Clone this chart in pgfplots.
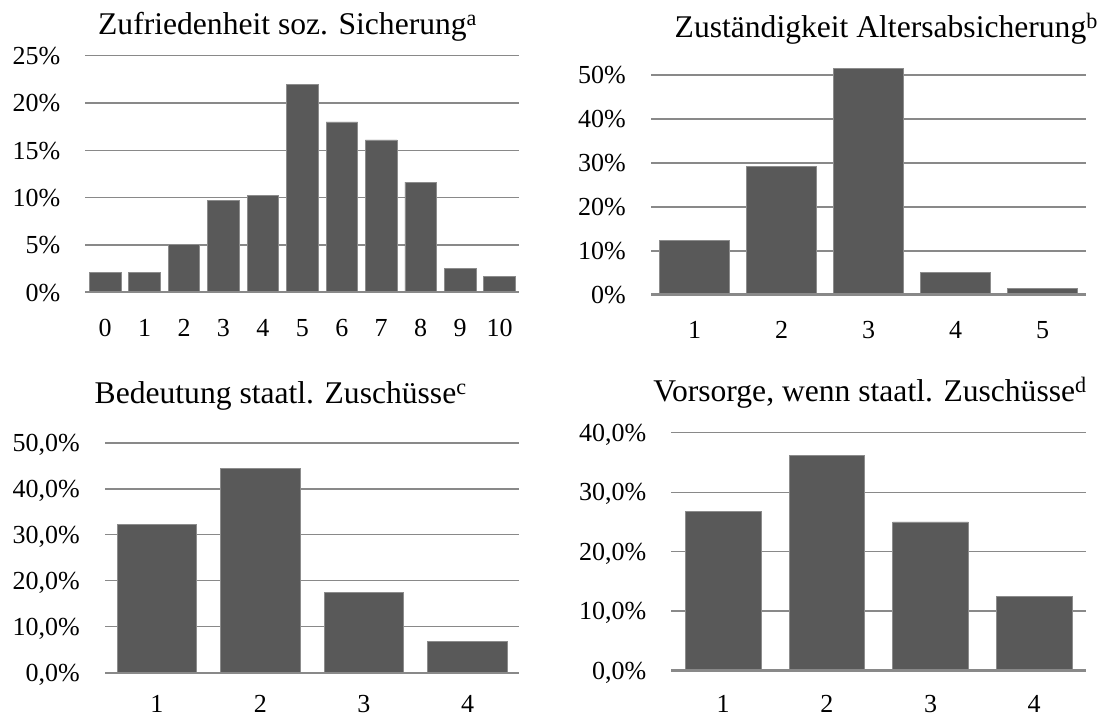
\documentclass[border=0pt]{standalone}
\usepackage{fontspec}
\setmainfont{Liberation Serif}
\usepackage{pgfplots}
\pgfplotsset{compat=1.18}
\definecolor{barc}{HTML}{595959}
\definecolor{gridc}{HTML}{898989}
\definecolor{edgec}{HTML}{8C8C8C}
\pgfplotsset{
  panel/.style={
    scale only axis, anchor=south west,
    axis line style={draw=none},
    major tick length=0pt,
    ymajorgrids, grid style={gridc, line width=1.3pt},
    ymin=0,
    xtick=data,
    ticklabel style={font=\fontsize{26}{26}\selectfont, inner sep=0pt, text=black},
    yticklabel style={anchor=base east, yshift=-8.8pt},
    yticklabel shift=25pt,
    xticklabel style={anchor=base},
    title style={font=\fontsize{31.6}{32}\selectfont, inner sep=0pt},
    ybar, clip=false,
  },
  barst/.style={fill=barc, draw=edgec, line width=0.8pt},
}
\begin{document}
\begin{tikzpicture}[x=1pt,y=1pt]
\useasboundingbox (0,0) rectangle (1097,718);
% Panel 1
\begin{axis}[panel,
  at={(85.4pt,425.7pt)}, width=433.9pt, height=236.6pt,
  ymax=25, ytick={0,5,10,15,20,25},
  yticklabels={0\%,5\%,10\%,15\%,20\%,25\%},
  xmin=-0.5, xmax=10.5, bar width=0.8,
  xticklabels={0,1,2,3,4,5,6,7,8,9,10},
  xticklabel shift=44.4pt,
  title={Zufriedenheit soz. Sicherung\textsuperscript{a}},
  title style={at={(axis description cs:0.466,1.066)}, anchor=base},
]
\addplot[barst] coordinates {(0,2.1) (1,2.1) (2,5.1) (3,9.75) (4,10.2) (5,22.0) (6,18.0) (7,16.1) (8,11.65) (9,2.55) (10,1.72)};
\draw[gridc, line width=2pt] (rel axis cs:0,0) -- (rel axis cs:1,0);
\end{axis}
% Panel 2
\begin{axis}[panel,
  at={(651pt,423pt)}, width=435pt, height=228.8pt,
  ymax=52, ytick={0,10,20,30,40,50},
  yticklabels={0\%,10\%,20\%,30\%,40\%,50\%},
  xmin=0.5, xmax=5.5, bar width=0.806,
  xticklabels={1,2,3,4,5},
  xticklabel shift=44pt,
  title={Zuständigkeit Altersabsicherung\textsuperscript{b}},
  title style={at={(axis description cs:0.054,1.100)}, anchor=base west},
]
\addplot[barst] coordinates {(1,12.45) (2,29.3) (3,51.5) (4,5.2) (5,1.55)};
\draw[gridc, line width=3pt] (rel axis cs:0,0) -- (rel axis cs:1,0);
\end{axis}
% Panel 3
\begin{axis}[panel,
  at={(105pt,45.5pt)}, width=414.3pt, height=229.5pt,
  ymax=50, ytick={0,10,20,30,40,50},
  yticklabels={{0,0\%},{10,0\%},{20,0\%},{30,0\%},{40,0\%},{50,0\%}},
  xmin=0.5, xmax=4.5, bar width=0.765,
  xticklabels={1,2,3,4},
  xticklabel shift=40pt,
  title={Bedeutung staatl. Zuschüsse\textsuperscript{c}},
  title style={at={(axis description cs:0.424,1.147)}, anchor=base},
]
\addplot[barst] coordinates {(1,32.3) (2,44.5) (3,17.5) (4,6.7)};
\draw[gridc, line width=2pt] (rel axis cs:0,0) -- (rel axis cs:1,0);
\end{axis}
% Panel 4
\begin{axis}[panel,
  at={(671.4pt,47.4pt)}, width=414.6pt, height=237.9pt,
  ymax=40, ytick={0,10,20,30,40},
  yticklabels={{0,0\%},{10,0\%},{20,0\%},{30,0\%},{40,0\%}},
  xmin=0.5, xmax=4.5, bar width=0.73,
  xticklabels={1,2,3,4},
  xticklabel shift=41.5pt,
  title={Vorsorge, wenn staatl. Zuschüsse\textsuperscript{d}},
  title style={at={(axis description cs:0.479,1.107)}, anchor=base},
]
\addplot[barst] coordinates {(1,26.7) (2,36.1) (3,25.0) (4,12.5)};
\draw[gridc, line width=3pt] (rel axis cs:0,0) -- (rel axis cs:1,0);
\end{axis}
\end{tikzpicture}
\end{document}
